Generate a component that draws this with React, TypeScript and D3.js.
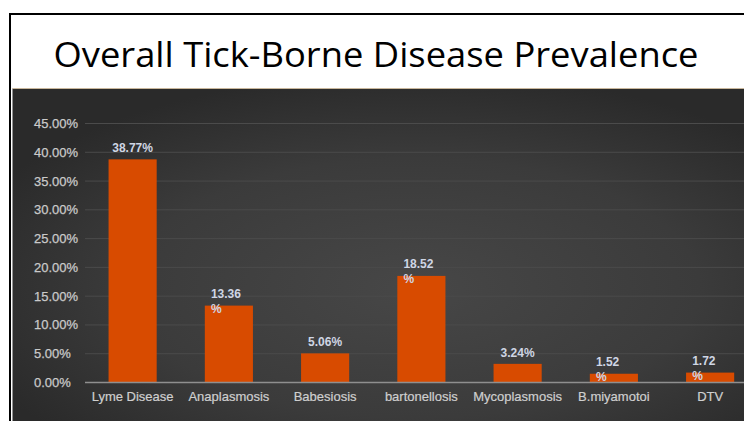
import React from "react";
import * as d3 from "d3";

const categories = ["Lyme Disease", "Anaplasmosis", "Babesiosis", "bartonellosis", "Mycoplasmosis", "B.miyamotoi", "DTV"];
const values = [38.77, 13.36, 5.06, 18.52, 3.24, 1.52, 1.72];
const valueLabels = [["38.77%"], ["13.36", "%"], ["5.06%"], ["18.52", "%"], ["3.24%"], ["1.52", "%"], ["1.72", "%"]];
const yTicks = [0, 5, 10, 15, 20, 25, 30, 35, 40, 45];
const title = "Overall Tick-Borne Disease Prevalence";

const W = 744;
const H = 421;

export default function App() {
  const y = d3.scaleLinear().domain([0, 45]).range([382.5, 123.5]);
  const x = d3
    .scaleBand<string>()
    .domain(categories)
    .range([84.5, 758.25])
    .paddingInner(0.5)
    .paddingOuter(0.25);
  const bw = x.bandwidth();
  const fmt = (v: number) => v.toFixed(2) + "%";

  return (
    <svg width={W} height={H} style={{ position: "absolute", left: 0, top: 0 }}>
      <defs>
        <radialGradient id="bg" cx="55%" cy="60%" r="65%">
          <stop offset="0%" stopColor="#474747" />
          <stop offset="60%" stopColor="#3b3b3b" />
          <stop offset="100%" stopColor="#2a2a2a" />
        </radialGradient>
      </defs>
      <rect x={0} y={0} width={W} height={H} fill="#ffffff" />
      <line x1={9} y1={14} x2={W} y2={14} stroke="#000" strokeWidth={2} />
      <line x1={10} y1={13} x2={10} y2={H} stroke="#000" strokeWidth={2} />
      <text
        x={53.5}
        y={66.5}
        fontFamily="'Open Sans', Lato, sans-serif"
        fontSize={35}
        fill="#000"
        textLength={645}
        lengthAdjust="spacingAndGlyphs"
      >
        {title}
      </text>
      <rect x={12.5} y={88.5} width={W - 12.5} height={H - 88.5} fill="url(#bg)" />
      <line x1={12.5} y1={88.5} x2={W} y2={88.5} stroke="#c9b79c" strokeWidth={1} />
      {yTicks.map((t) => (
        <g key={t}>
          {t > 0 && (
            <line x1={85} x2={W} y1={y(t)} y2={y(t)} stroke="#4b4b4b" strokeWidth={1} />
          )}
          <text
            x={34}
            y={y(t) + 4.5}
            fontFamily="'Liberation Sans', Arial, sans-serif"
            fontSize={13}
            fill="#cacaca"
            stroke="#cacaca"
            strokeWidth={0.25}
          >
            {fmt(t)}
          </text>
        </g>
      ))}
      {categories.map((c, i) => (
        <rect key={c} x={x(c)} y={y(values[i])} width={bw} height={y(0) - y(values[i])} fill="#d84b00" />
      ))}
      <line x1={85} x2={W} y1={y(0)} y2={y(0)} stroke="#8f8f8f" strokeWidth={1.5} />
      {categories.map((c, i) => {
        const lines = valueLabels[i];
        const cx = (x(c) as number) + bw / 2;
        const top = y(values[i]);
        if (lines.length === 1) {
          return (
            <text
              key={c}
              x={cx}
              y={top - 7}
              textAnchor="middle"
              fontFamily="'Liberation Sans', Arial, sans-serif"
              fontWeight="bold"
              fontSize={12}
              fill="#cfd6e4"
            >
              {lines[0]}
            </text>
          );
        }
        return (
          <text
            key={c}
            x={cx - 18}
            y={top - 7.5}
            fontFamily="'Liberation Sans', Arial, sans-serif"
            fontWeight="bold"
            fontSize={12}
            fill="#cfd6e4"
          >
            {lines.map((l, k) => (
              <tspan key={k} x={cx - 18} dy={k === 0 ? 0 : 15}>
                {l}
              </tspan>
            ))}
          </text>
        );
      })}
      {categories.map((c) => (
        <text
          key={c}
          x={(x(c) as number) + bw / 2}
          y={401}
          textAnchor="middle"
          fontFamily="'Liberation Sans', Arial, sans-serif"
          fontSize={13}
          fill="#cfcfcf"
          stroke="#cfcfcf"
          strokeWidth={0.2}
        >
          {c}
        </text>
      ))}
    </svg>
  );
}
